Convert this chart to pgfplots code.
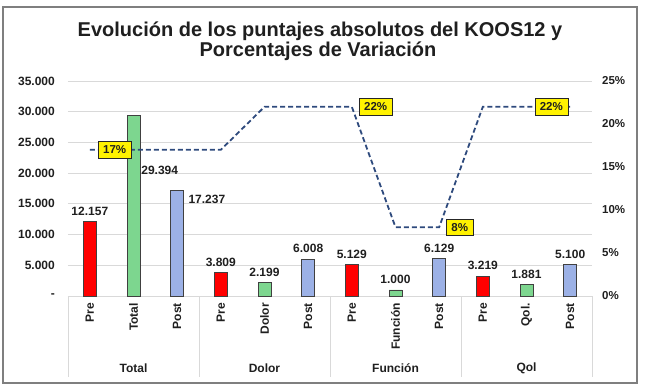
\documentclass[border=0pt]{standalone}
\usepackage{fontspec}
\setmainfont{Liberation Sans}
\usepackage{pgfplots}
\pgfplotsset{compat=1.18}
\definecolor{barred}{HTML}{FF0000}
\definecolor{bargreen}{HTML}{7DD68F}
\definecolor{barblue}{HTML}{9CB1E6}
\definecolor{linenavy}{HTML}{2E4A7D}
\definecolor{gridgray}{HTML}{D9D9D9}
\definecolor{framegray}{HTML}{7F7F7F}
\definecolor{txt}{HTML}{1F1F1F}
\begin{document}
\begin{tikzpicture}[font=\bfseries\fontsize{12}{14}\selectfont, text=txt]
\useasboundingbox (-68pt,-95pt) rectangle (578pt,296pt);
\draw[framegray, line width=1.2pt] (-65pt,-87pt) rectangle (569pt,289pt);
\node[anchor=base, font=\bfseries\fontsize{20}{24}\selectfont] at (252pt,259pt)
  {Evolución de los puntajes absolutos del KOOS12 y};
\node[anchor=base, font=\bfseries\fontsize{20}{24}\selectfont] at (250pt,239pt)
  {Porcentajes de Variación};
\begin{axis}[
  scale only axis, width=524pt, height=215pt,
  at={(0pt,0pt)}, anchor=south west,
  xmin=-0.5, xmax=11.5, ymin=0, ymax=35000,
  axis line style={draw=none},
  ymajorgrids, grid style={gridgray, line width=0.8pt},
  major tick length=0pt,
  scaled y ticks=false,
  tick label style={font=\bfseries\fontsize{12}{14}\selectfont, text=txt},
  xtick={0,...,11},
  xticklabels={Pre,Total,Post,Pre,Dolor,Post,Pre,Función,Post,Pre,Qol.,Post},
  xticklabel style={rotate=90, anchor=east, inner sep=0pt},
  xticklabel shift=7pt,
  ytick={0,5000,...,35000},
  yticklabels={-\hspace{8pt},5.000,10.000,15.000,20.000,25.000,30.000,35.000},
  yticklabel style={inner sep=0pt},
  yticklabel shift=13pt,
  clip=false,
  bar width=13pt,
  /pgf/number format/.cd, fixed, precision=0, 1000 sep={.}, assume math mode=true,
  /pgfplots/.cd,
  every node near coord/.append style={font=\bfseries\fontsize{12}{14}\selectfont, text=txt},
]
\addplot[ybar, bar shift=0pt, fill=barred, draw=black!75, line width=0.7pt,
  nodes near coords, every node near coord/.append style={yshift=2.5pt}]
  coordinates {(0,12157)(3,3809)(6,5129)(9,3219)};
\addplot[ybar, bar shift=0pt, fill=bargreen, draw=black!75, line width=0.7pt,
  nodes near coords, every node near coord/.append style={yshift=2.5pt}]
  coordinates {(4,2199)(7,1000)(10,1881)};
\addplot[ybar, bar shift=0pt, fill=bargreen, draw=black!75, line width=0.7pt,
  nodes near coords, every node near coord/.append style={anchor=west, inner sep=0pt, xshift=7.5pt, yshift=-55pt}]
  coordinates {(1,29394)};
\addplot[ybar, bar shift=0pt, fill=barblue, draw=black!75, line width=0.7pt,
  nodes near coords, every node near coord/.append style={yshift=2.5pt}]
  coordinates {(5,6008)(8,6129)(11,5100)};
\addplot[ybar, bar shift=0pt, fill=barblue, draw=black!75, line width=0.7pt,
  nodes near coords, every node near coord/.append style={anchor=west, inner sep=0pt, xshift=11pt, yshift=-9pt}]
  coordinates {(2,17237)};
\draw[gridgray, line width=0.8pt] (axis cs:-0.5,0) -- ++(0pt,-81pt);
\draw[gridgray, line width=0.8pt] (axis cs:2.5,0) -- ++(0pt,-81pt);
\draw[gridgray, line width=0.8pt] (axis cs:5.5,0) -- ++(0pt,-81pt);
\draw[gridgray, line width=0.8pt] (axis cs:8.5,0) -- ++(0pt,-81pt);
\draw[gridgray, line width=0.8pt] (axis cs:11.5,0) -- ++(0pt,-81pt);
\node at ([yshift=-72pt]axis cs:1,0) {Total};
\node at ([yshift=-72pt]axis cs:4,0) {Dolor};
\node at ([yshift=-72pt]axis cs:7,0) {Función};
\node at ([yshift=-72pt]axis cs:10,0) {Qol};
\end{axis}
\begin{axis}[
  scale only axis, width=524pt, height=215pt,
  at={(0pt,0pt)}, anchor=south west,
  xmin=-0.5, xmax=11.5, ymin=0, ymax=25,
  axis x line=none, axis y line*=right, axis line style={draw=none},
  major tick length=0pt,
  tick label style={font=\bfseries\fontsize{11.5}{14}\selectfont, text=txt},
  ytick={0,5,...,25}, yticklabels={0\%,5\%,10\%,15\%,20\%,25\%},
  yticklabel style={inner sep=0pt}, yticklabel shift=10pt,
  clip=false,
]
\addplot[linenavy, line width=1.8pt, dash pattern=on 5pt off 3pt, mark=none]
  coordinates {(0,17)(1,17)(2,17)(3,17)(4,22)(5,22)(6,22)(7,8)(8,8)(9,22)(10,22)(11,22)};
\node[fill=yellow, draw=black!85, line width=0.6pt, inner xsep=5pt, inner ysep=4pt,
  font=\bfseries\fontsize{11.5}{14}\selectfont, text=txt, anchor=west, xshift=8pt] at (axis cs:0,17) {17\%};
\node[fill=yellow, draw=black!85, line width=0.6pt, inner xsep=5pt, inner ysep=4pt,
  font=\bfseries\fontsize{11.5}{14}\selectfont, text=txt, anchor=west, xshift=7pt] at (axis cs:6,22) {22\%};
\node[fill=yellow, draw=black!85, line width=0.6pt, inner xsep=5pt, inner ysep=4pt,
  font=\bfseries\fontsize{11.5}{14}\selectfont, text=txt, anchor=west, xshift=7pt] at (axis cs:8,8) {8\%};
\node[fill=yellow, draw=black!85, line width=0.6pt, inner xsep=5pt, inner ysep=4pt,
  font=\bfseries\fontsize{11.5}{14}\selectfont, text=txt, anchor=east, xshift=-2pt] at (axis cs:11,22) {22\%};
\end{axis}
\end{tikzpicture}
\end{document}
